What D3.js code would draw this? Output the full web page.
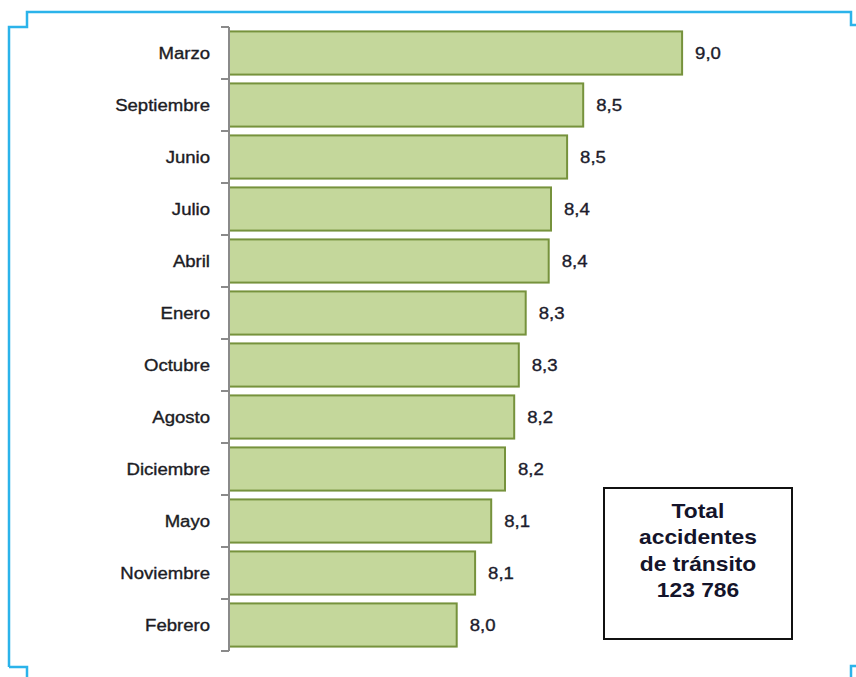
<html lang='en'>
  <head>
    <meta charset='UTF-8' />
    <script src='https://d3js.org/d3.v7.min.js'></script>
    <style>
      body { margin: 0; background: #fff; }
      text { font-family: 'Liberation Sans', Arial, sans-serif; }
      .cat-label { font-size: 16px; fill: #1c1c24; stroke: #1c1c24; stroke-width: 0.35; text-anchor: end; }
      .val-label { font-size: 16px; fill: #1c1c2c; stroke: #1c1c2c; stroke-width: 0.35; text-anchor: start; }
      .box-label { font-size: 20px; font-weight: bold; fill: #14142a; text-anchor: middle; }
    </style>
    <title>Accidentes de tránsito por mes</title>
  </head>
  <body>
  <div id='chart'></div>
  <script>

  // months, sorted as in the chart (top to bottom)
  const months = ["Marzo", "Septiembre", "Junio", "Julio", "Abril", "Enero",
    "Octubre", "Agosto", "Diciembre", "Mayo", "Noviembre", "Febrero"];

  // share of accidents (%)
  const shares = [8.97, 8.54, 8.47, 8.40, 8.39, 8.29, 8.26, 8.24, 8.20, 8.14, 8.07, 7.99];

  // text of the total box
  const boxLines = ["Total", "accidentes", "de tránsito", "123 786"];

  const data = months.map((m, i) => ({ key: m, value: shares[i] }));

  const width = 856;
  const height = 677;
  const margin = { top: 27, left: 229, bottom: 26 };
  const innerHeight = height - margin.top - margin.bottom;
  const stretch = 1.16;   // the original text is a little wide

  const svg = d3.select("#chart")
    .append("svg")
    .attr("width", width)
    .attr("height", height);

  // blue frame around the figure
  const frame = svg.append("g")
    .attr("fill", "none")
    .attr("stroke", "#2bb3ea")
    .attr("stroke-width", 2.5);
  frame.append("path").attr("d", "M9,667 V27 H27 V12 H851 V25 H858");
  frame.append("path").attr("d", "M9,667 H27 V679");
  frame.append("path").attr("d", "M858,666 H851 V679");

  //scales
  const xScale = d3.scaleLinear().domain([7, 9.5]).range([0, 575]);

  const yScale = d3.scaleBand()
    .domain(months)
    .range([0, innerHeight])
    .paddingInner(0.17)
    .paddingOuter(0.085);

  const gInner = svg.append("g")
    .attr("transform", `translate(${margin.left},${margin.top})`);

  //bars
  gInner.selectAll("rect.bar")
    .data(data)
    .join("rect")
    .attr("class", "bar")
    .attr("x", 0)
    .attr("y", d => yScale(d.key))
    .attr("width", d => xScale(d.value) - xScale(7))
    .attr("height", yScale.bandwidth())
    .attr("fill", "#c4d79b")
    .attr("stroke", "#76923c")
    .attr("stroke-width", 2);

  //y axis: line with ticks between the categories
  const step = yScale.step();
  const gAxis = gInner.append("g")
    .attr("stroke", "#8a8a8a")
    .attr("stroke-width", 2);
  gAxis.append("line")
    .attr("x1", 0).attr("x2", 0)
    .attr("y1", 0).attr("y2", innerHeight);
  gAxis.selectAll("line.tick")
    .data(d3.range(months.length + 1))
    .join("line")
    .attr("class", "tick")
    .attr("x1", -8).attr("x2", 0)
    .attr("y1", d => d * step)
    .attr("y2", d => d * step);

  //category labels
  gInner.selectAll("text.cat-label")
    .data(data)
    .join("text")
    .attr("class", "cat-label")
    .attr("transform", d => `translate(-19,${yScale(d.key) + yScale.bandwidth() / 2}) scale(${stretch},1)`)
    .attr("dy", "0.38em")
    .text(d => d.key);

  //value labels, decimal comma
  const fmt = d3.format(".1f");
  gInner.selectAll("text.val-label")
    .data(data)
    .join("text")
    .attr("class", "val-label")
    .attr("transform", d => `translate(${xScale(d.value) + 13},${yScale(d.key) + yScale.bandwidth() / 2}) scale(${stretch},1)`)
    .attr("dy", "0.38em")
    .text(d => fmt(d.value).replace(".", ","));

  //total box
  const box = svg.append("g").attr("transform", "translate(604,488)");
  box.append("rect")
    .attr("width", 188)
    .attr("height", 151)
    .attr("fill", "#fff")
    .attr("stroke", "#111")
    .attr("stroke-width", 2);
  box.selectAll("text")
    .data(boxLines)
    .join("text")
    .attr("class", "box-label")
    .attr("transform", (d, i) => `translate(94,${30 + i * 26.3}) scale(1.14,1)`)
    .text(d => d);

  </script>
  </body>
</html>
